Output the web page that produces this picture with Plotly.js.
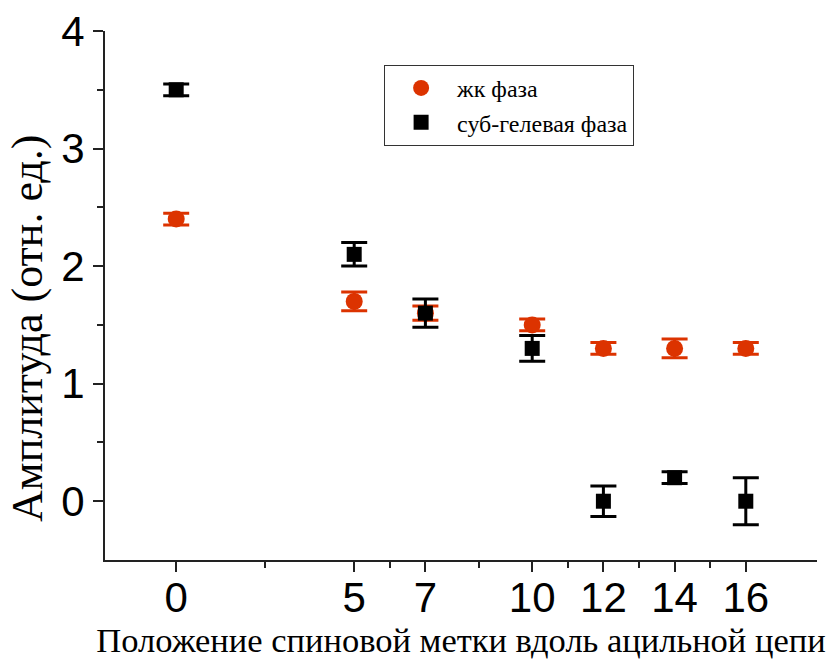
<!DOCTYPE html>
<html>
<head>
<meta charset="utf-8">
<script src="https://cdn.plot.ly/plotly-3.0.1.min.js"></script>
<style>body{margin:0;background:#fff}#chart{width:833px;height:660px}</style>
</head>
<body>
<div id="chart"></div>
<script>
const positions = [0, 5, 7, 10, 12, 14, 16];
const lcValues = [2.4, 1.7, 1.6, 1.5, 1.3, 1.3, 1.3];
const lcErrors = [0.05, 0.08, 0.06, 0.05, 0.05, 0.08, 0.05];
const gelValues = [3.5, 2.1, 1.6, 1.3, 0.0, 0.2, 0.0];
const gelErrors = [0.05, 0.1, 0.12, 0.11, 0.13, 0.05, 0.2];
const xTickVals = [0, 5, 7, 10, 12, 14, 16];
const xMinorVals = [2.5, 6, 8.5, 11, 13, 15];
const yTickVals = [0, 1, 2, 3, 4];
const yMinorVals = [0.5, 1.5, 2.5, 3.5];
const seriesNames = ['жк фаза', 'суб-гелевая фаза'];
const xTitle = 'Положение спиновой метки вдоль ацильной цепи';
const yTitle = 'Амплитуда (отн. ед.)';

const RED = '#dc3300';
const AX = '#222222';
const serif = 'Liberation Serif, Times New Roman, serif';
const sans = 'Liberation Sans, Arial, sans-serif';

const traces = [
  {
    x: positions, y: lcValues, name: seriesNames[0], type: 'scatter', mode: 'markers',
    marker: {symbol: 'circle', size: 17, color: RED},
    error_y: {type: 'data', array: lcErrors, visible: true, color: RED, thickness: 3, width: 13}
  },
  {
    x: positions, y: gelValues, name: seriesNames[1], type: 'scatter', mode: 'markers',
    marker: {symbol: 'square', size: 15, color: '#000000'},
    error_y: {type: 'data', array: gelErrors, visible: true, color: '#000000', thickness: 3, width: 13}
  }
];

const common = {showline: true, linecolor: AX, linewidth: 2, tickcolor: AX, tickwidth: 2, zeroline: false, showgrid: false};

const layout = {
  width: 833, height: 660,
  margin: {l: 105, r: 16, t: 31, b: 100},
  paper_bgcolor: '#ffffff', plot_bgcolor: '#ffffff',
  showlegend: true,
  legend: {
    x: 0.392, y: 0.936, xanchor: 'left', yanchor: 'top',
    bordercolor: '#333', borderwidth: 1, bgcolor: '#ffffff',
    font: {family: serif, size: 24, color: '#000'},
    itemwidth: 62, tracegroupgap: 0
  },
  xaxis: Object.assign({}, common, {
    range: [-2, 18], tickmode: 'array', tickvals: xTickVals,
    ticks: 'outside', ticklen: 10,
    minor: {tickmode: 'array', tickvals: xMinorVals, ticks: 'outside', ticklen: 6, tickwidth: 2, tickcolor: AX},
    tickfont: {family: sans, size: 42, color: '#000'},
    ticklabelstandoff: -10,
    title: {text: xTitle, font: {family: serif, size: 34.5, color: '#000'}, standoff: 3}
  }),
  xaxis2: Object.assign({}, common, {
    overlaying: 'x', side: 'top', anchor: 'y', matches: 'x',
    range: [-2, 18], tickmode: 'array', tickvals: xTickVals,
    ticks: 'inside', ticklen: 10, showticklabels: false,
    minor: {tickmode: 'array', tickvals: xMinorVals, ticks: 'inside', ticklen: 5, tickwidth: 2, tickcolor: AX}
  }),
  yaxis: Object.assign({}, common, {
    range: [-0.5, 4], tickmode: 'array', tickvals: yTickVals,
    ticks: 'outside', ticklen: 10,
    minor: {tickmode: 'array', tickvals: yMinorVals, ticks: 'outside', ticklen: 6, tickwidth: 2, tickcolor: AX},
    tickfont: {family: sans, size: 42, color: '#000'},
    ticklabelstandoff: 0
  }),
  yaxis2: Object.assign({}, common, {
    overlaying: 'y', side: 'right', anchor: 'x', matches: 'y',
    range: [-0.5, 4], tickmode: 'array', tickvals: yTickVals,
    ticks: 'inside', ticklen: 10, showticklabels: false,
    minor: {tickmode: 'array', tickvals: yMinorVals, ticks: 'inside', ticklen: 5, tickwidth: 2, tickcolor: AX}
  }),
  annotations: [{
    text: yTitle, textangle: -90, xref: 'paper', yref: 'paper',
    x: -0.108, y: 0.437, xanchor: 'center', yanchor: 'middle', showarrow: false,
    font: {family: serif, size: 44, color: '#000'}
  }]
};

Plotly.newPlot('chart', traces, layout, {displayModeBar: false, staticPlot: true});
</script>
</body>
</html>
